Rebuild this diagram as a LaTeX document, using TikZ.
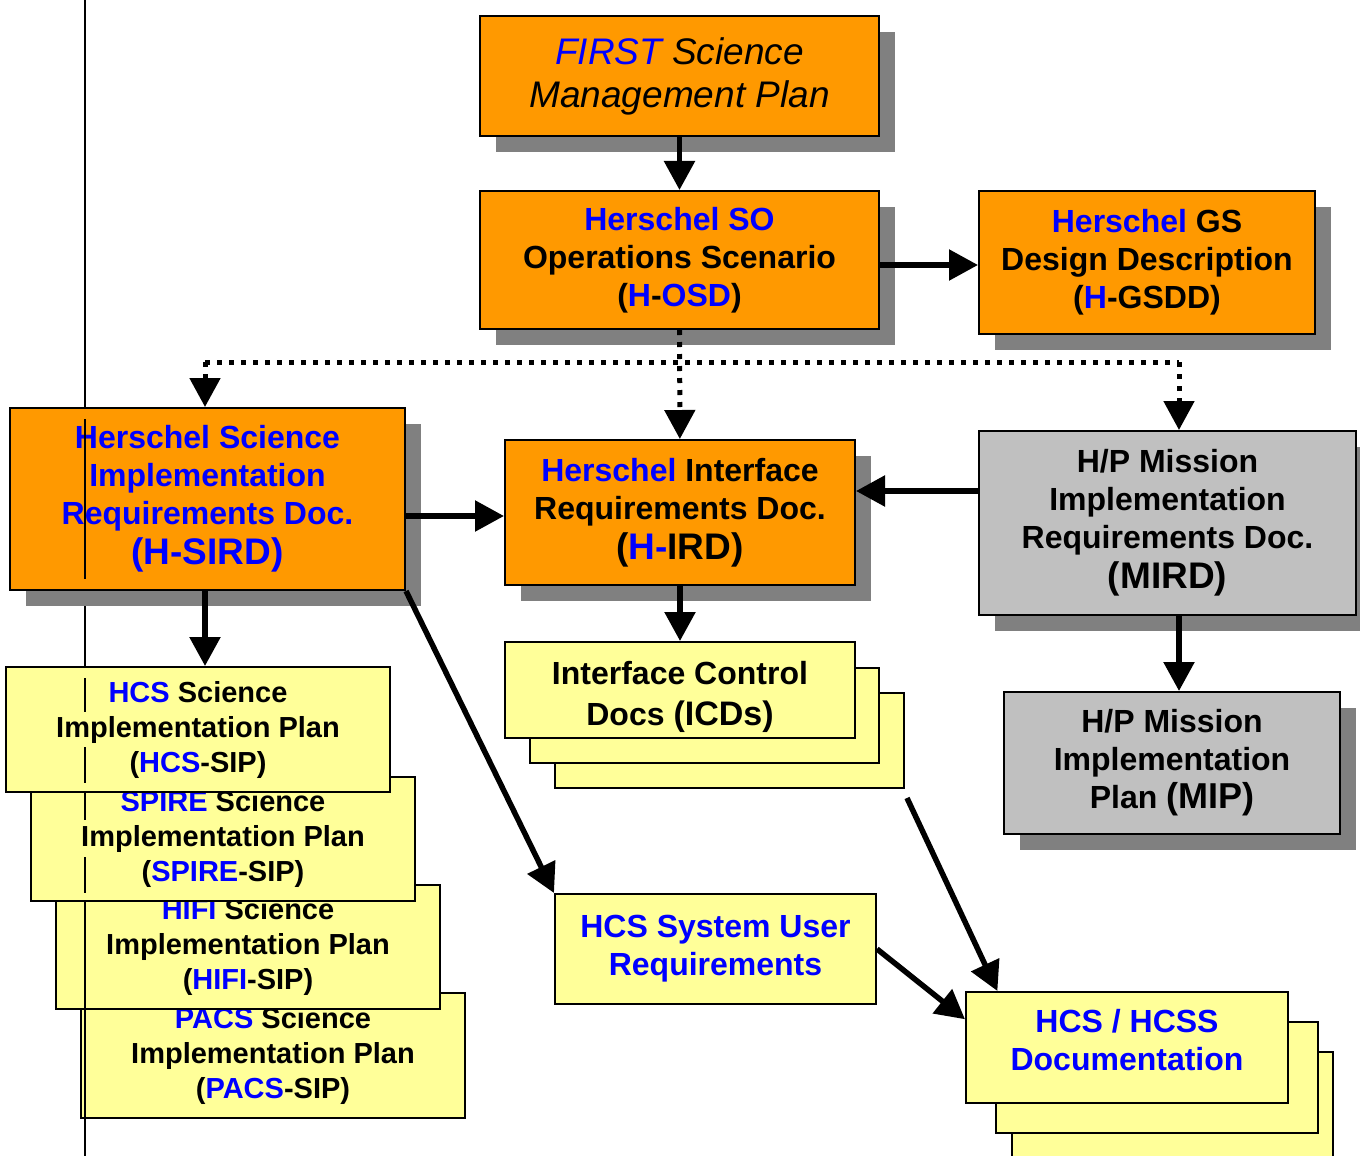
\documentclass[tikz,border=0pt]{standalone}
\usepackage{fontspec}
\setmainfont{Liberation Sans}
\usetikzlibrary{arrows.meta,shadows,calc}
\definecolor{horange}{HTML}{FF9900}
\definecolor{hyellow}{HTML}{FFFF99}
\definecolor{hgrey}{HTML}{C0C0C0}
\definecolor{hshadow}{HTML}{808080}
\definecolor{hblue}{HTML}{0000FF}
\newcommand\hb[1]{\textcolor{hblue}{#1}}
\newcommand\bigln{\fontsize{18.5}{22}\selectfont}
\newcommand\bx[7]{%
 \pgfmathsetmacro\bxw{(#5-#3)*0.5}%
 \pgfmathsetmacro\bxh{(#6-#4)*0.5}%
 \node[#2, minimum width=\bxw pt, minimum height=\bxh pt] (#1) at ({(#3+#5)/2},{(#4+#6)/2}) {#7};}
\begin{document}
\begin{tikzpicture}[x=0.5pt,y=-0.5pt,
 base/.style={draw=black, line width=1pt, inner sep=0pt, align=center, font=\bfseries\fontsize{16}{19}\selectfont},
 shad/.style={drop shadow={shadow xshift=8pt, shadow yshift=-8pt, fill=hshadow, opacity=1}},
 obox/.style={base, fill=horange, shad},
 gbox/.style={base, fill=hgrey, shad},
 ybox/.style={base, fill=hyellow},
 sbox/.style={ybox, font=\bfseries\fontsize{14.5}{17.5}\selectfont},
 txt/.style={inner sep=0pt, align=center, font=\bfseries\fontsize{16}{19}\selectfont},
 arr/.style={line width=2.75pt, -{Triangle[length=14.5pt,width=15pt]}},
 dotl/.style={line width=2.5pt, dash pattern=on 2.5pt off 3.5pt},
 darr/.style={dotl, -{Triangle[length=14.5pt,width=15pt]}},
 vline/.style={line width=0.8pt}]
\useasboundingbox (0,0) rectangle (1360,1156);
\fill[white] (0,0) rectangle (1360,1156);

% left vertical rule (behind boxes)
\coordinate (vt) at (85,0);
\coordinate (vb) at (85,1156);
\draw[vline] (vt) -- (vb);

% top orange boxes
\bx{smp}{obox, font=\itshape\fontsize{18.5}{21.5}\selectfont}{480}{16}{879}{136}
  {\hb{FIRST} Science\\Management Plan}
\bx{osd}{obox}{480}{191}{879}{329}
  {\hb{Herschel SO}\\Operations Scenario\\(\hb{H}-\hb{OSD})}
\bx{gsdd}{obox}{979}{191}{1315}{334}
  {\hb{Herschel} GS\\Design Description\\(\hb{H}-GSDD)}

% middle row
\bx{hsird}{obox, text=hblue}{10}{408}{405}{590}
  {Herschel Science\\Implementation\\Requirements Doc.\\[1pt]{\bigln (H-SIRD)}}
\bx{hird}{obox}{505}{440}{855}{585}
  {\hb{Herschel} Interface\\Requirements Doc.\\[1pt]{\bigln (\hb{H-}IRD)}}
\bx{mird}{gbox}{979}{431}{1356}{615}
  {H/P Mission\\Implementation\\Requirements Doc.\\[1pt]{\bigln (MIRD)}}
\bx{mip}{gbox}{1004}{692}{1340}{834}
  {H/P Mission\\Implementation\\Plan {\fontsize{18}{21}\selectfont(MIP)}}

% ICD stack
\bx{icd3}{ybox}{555}{693}{904}{788}{}
\bx{icd2}{ybox}{530}{668}{879}{763}{}
\bx{icd1}{ybox}{505}{642}{855}{738}{}
\node[txt, font=\bfseries\fontsize{16}{20.5}\selectfont] (icdt) at (680,697)
  {Interface Control\\Docs {\fontsize{17}{20.5}\selectfont(ICDs)}};

% SIP stack
\bx{pacs}{sbox}{81}{993}{465}{1118}
  {\hb{PACS} Science\\Implementation Plan\\(\hb{PACS}-SIP)}
\bx{hifi}{sbox}{56}{885}{440}{1009}
  {\hb{HIFI} Science\\Implementation Plan\\(\hb{HIFI}-SIP)}
\bx{spire}{sbox}{31}{777}{415}{901}
  {\hb{SPIRE} Science\\Implementation Plan\\(\hb{SPIRE}-SIP)}
\bx{hcs}{sbox}{6}{667}{390}{792}
  {\hb{HCS} Science\\Implementation Plan\\(\hb{HCS}-SIP)}

% HCS system user requirements
\bx{hsur}{ybox, text=hblue}{555}{894}{876}{1004}
  {HCS System User\\Requirements}

% HCSS stack
\bx{hcss3}{ybox}{1012}{1052}{1333}{1180}{}
\bx{hcss2}{ybox}{996}{1022}{1318}{1133}{}
\bx{hcss1}{ybox}{966}{992}{1288}{1103}{}
\node[txt, text=hblue] (hcsst) at (1127,1040) {HCS / HCSS\\Documentation};

% visible parts of the left rule over boxes
\begin{scope}[vline]
\draw (85,419) -- (85,579);
\draw (85,678) -- (85,712);
\draw (85,747) -- (85,783);
\draw (85,793) -- (85,820);
\draw (85,857) -- (85,893);
\draw (85,900) -- (85,1156);
\end{scope}

% connectors
\draw[arr] (smp) -- (osd);
\draw[arr] (osd.east |- 0,265) -- (gsdd.west |- 0,265);
\coordinate (jl) at (205,362);
\coordinate (jr) at (1179,362);
\draw[dotl] (jl) -- (jr);
\draw[darr] (jl) -- (jl |- hsird.north);
\draw[darr] (jr) -- (jr |- mird.north);
\draw[darr] (osd) -- (hird);
\draw[arr] (hsird.east |- 0,516) -- (hird.west |- 0,516);
\draw[arr] (mird.west |- 0,491) -- (hird.east |- 0,491);
\draw[arr] (hsird.south -| 205,0) -- (hcs.north -| 205,0);
\draw[arr] (hird) -- (icd1);
\draw[arr] (mird.south -| 1179,0) -- (mip.north -| 1179,0);
\draw[arr] (hsird.south east) -- (hsur.north west);
\draw[arr] (hsur.east) -- ($(hcss1.north west)!0.25!(hcss1.south west)$);
\draw[arr] ($(icd3.south east)+(2,9)$) -- ($(hcss1.north west)!0.1!(hcss1.north east)$);
\end{tikzpicture}
\end{document}
